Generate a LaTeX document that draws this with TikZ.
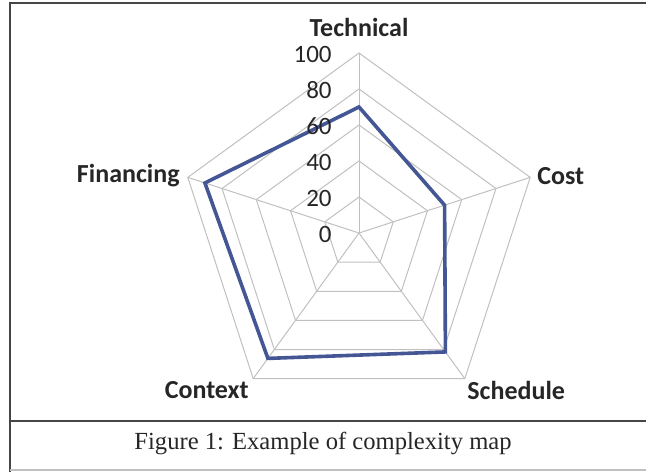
\documentclass[tikz,border=0pt]{standalone}
\usepackage{fontspec}
\setmainfont{Liberation Serif}
\newfontfamily\labelfont{Carlito}
\usepackage{tikz}
\usepackage{xcolor}
\usetikzlibrary{calc}
\usetikzlibrary{positioning}

\definecolor{gridgray}{RGB}{192,192,192}
\definecolor{seriesblue}{RGB}{68,86,148}
\definecolor{framegray}{RGB}{70,70,70}

\begin{document}
\begin{tikzpicture}[x=0.5pt,y=0.5pt,
  gridline/.style={gridgray, line width=0.5pt},
  axislabel/.style={font=\labelfont\bfseries\fontsize{13}{15}\selectfont, text=black!85, inner sep=1pt},
  ticklabel/.style={font=\labelfont\fontsize{12.5}{14}\selectfont, text=black!85, inner sep=0pt, anchor=east}]
\useasboundingbox (0,0) rectangle (646,472);

% frame
\draw[framegray, line width=1pt] (10,0) -- (10,469) -- (646,469);
\draw[framegray, line width=1pt] (10,51) -- (646,51);
\draw[gridgray, line width=0.6pt] (10,2) -- (646,2);

\coordinate (c) at (359,239);

% rings and spokes
\foreach \r in {36,72,...,180}
  \draw[gridline] ($(c)+(90:\r)$) -- ($(c)+(18:\r)$) -- ($(c)+(-54:\r)$)
    -- ($(c)+(-126:\r)$) -- ($(c)+(162:\r)$) -- cycle;
\foreach \a in {90,18,-54,-126,162}
  \draw[gridline] (c) -- ($(c)+(\a:180)$);

% series
\draw[seriesblue, line width=1.8pt, line join=miter]
  ($(c)+(90:126)$) -- ($(c)+(18:90)$) -- ($(c)+(-54:147)$)
  -- ($(c)+(-126:155)$) -- ($(c)+(162:162)$) -- cycle;

% scale
\foreach \v [count=\i from 0] in {0,20,40,60,80,100}
  \node[ticklabel] (tick\v) at ($(c)+(-27,36*\i-1)$) {\v};

% axis labels
\node[axislabel] (technical) at (359,445) {Technical};
\node[axislabel, anchor=west] (cost) at (535,296) {Cost};
\node[axislabel, anchor=north west] (schedule) at (465,93) {Schedule};
\node[axislabel, anchor=north east] (context) at (251,93) {Context};
\node[axislabel, anchor=east] (financing) at (182,296) {Financing};

% caption
\node[font=\fontsize{12.3}{14}\selectfont, text=black!85] (caption) at (323,29) {Figure 1: Example of complexity map};
\end{tikzpicture}
\end{document}
